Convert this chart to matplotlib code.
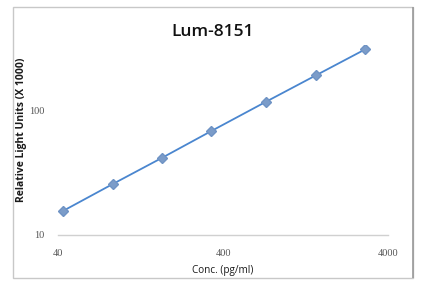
import matplotlib
matplotlib.use("Agg")
import matplotlib.pyplot as plt
from matplotlib.patches import Rectangle

# standard curve
conc = [43, 86, 170, 340, 725, 1470, 2900]
rlu = [15.6, 25.6, 41.3, 67.9, 116, 190, 305]
x_ticks = [40, 400, 4000]
y_ticks = [10, 100]

fig = plt.figure(figsize=(4.28, 2.98), dpi=100)
ax = fig.add_axes([58 / 428, 63 / 298, 330 / 428, 190 / 298])

# outer chart frame like the excel chart area
fig.patches.append(Rectangle((13 / 428, 20 / 298), 400 / 428, 271 / 298,
                             transform=fig.transFigure, fill=False,
                             edgecolor='#c8c8c8', linewidth=1.0))
fig.patches.append(Rectangle((412.5 / 428, 20 / 298), 0.5 / 428, 271 / 298,
                             transform=fig.transFigure, fill=False,
                             edgecolor='#9a9a9a', linewidth=1.2))

ax.plot(conc, rlu, color='#4a86cf', linewidth=1.3, marker='D',
        markersize=5, markerfacecolor='#7b9cc9', markeredgecolor='#6f93c4')

ax.set_xscale('log')
ax.set_yscale('log')
ax.set_xlim(40, 4000)
ax.set_ylim(10, 10 ** (1 + 190 / 125))

for s in ['top', 'right', 'left']:
    ax.spines[s].set_visible(False)
ax.spines['bottom'].set_color('#d0d0d0')
ax.spines['bottom'].set_linewidth(1.0)

ax.set_xticks(x_ticks)
ax.set_xticklabels([str(v) for v in x_ticks])
ax.set_yticks(y_ticks)
ax.set_yticklabels([str(v) for v in y_ticks])
ax.minorticks_off()
ax.tick_params(length=0, labelsize=7.5, labelcolor='#555555')
for lab in ax.get_xticklabels() + ax.get_yticklabels():
    lab.set_family('Liberation Serif')
ax.tick_params(axis='y', pad=10)
ax.tick_params(axis='x', pad=10)

ax.set_xlabel('Conc. (pg/ml)', fontsize=7.2, color='#1a1a1a', labelpad=5,
              family='Open Sans')
fig.text(22 / 428, 1 - 130 / 298, 'Relative Light Units (X 1000)',
         rotation=90, ha='center', va='center', fontsize=7.5,
         color='#1a1a1a', fontweight='bold', family='Open Sans')
fig.text(213 / 428, 1 - 32 / 298, 'Lum-8151', ha='center', va='center',
         fontsize=12.5, color='#111111', family='Open Sans',
         fontweight='semibold')

fig.savefig('out.png', dpi=100)
